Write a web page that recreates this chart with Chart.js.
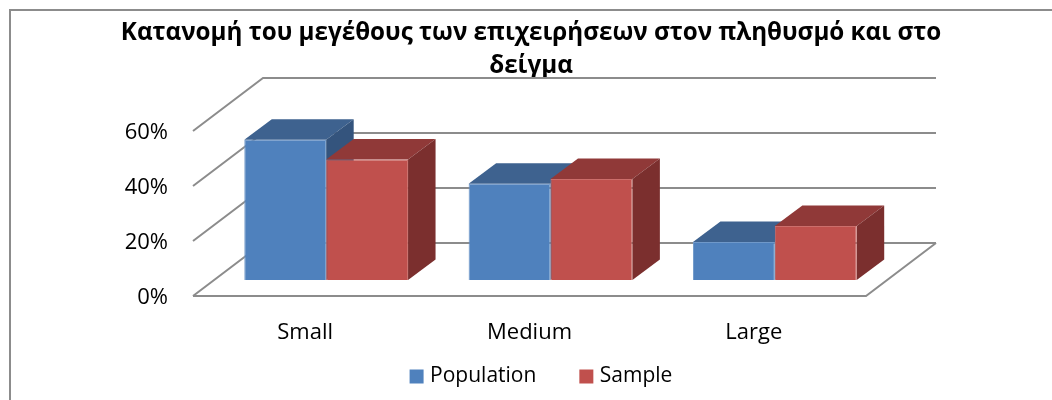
<!DOCTYPE html>
<html>
<head>
<meta charset="utf-8">
<style>
  html, body { margin: 0; padding: 0; background: #fff; }
  canvas { display: block; }
</style>
<script src="https://cdn.jsdelivr.net/npm/chart.js@4"></script>
</head>
<body>
<canvas id="chart" width="1052" height="400"></canvas>
<script>
const titleLines = ['Κατανομή του μεγέθους των επιχειρήσεων στον πληθυσμό και στο', 'δείγμα'];
const categories = ['Small', 'Medium', 'Large'];
const population = [51, 35, 13.8];
const sample = [43.8, 36.7, 19.6];
const tickValues = [0, 20, 40, 60];
const tickLabels = ['0%', '20%', '40%', '60%'];

const FONT = '"Open Sans", sans-serif';
const LINE = '#8c8c8c';
const LEGEND_GAP = 47;
// how far the walls and the bars sit behind the front edge of the floor
const WALL = { x: 70, y: -53 };
const PLANE = { x: 21, y: -16 };
const DEPTH = { x: 27.5, y: -20.5 };
const faces = [
    { top: '#3e628f', side: '#34547d' },
    { top: '#903938', side: '#7b2f2e' }
];

function line(ctx, pts) {
    ctx.beginPath();
    pts.forEach((p, i) => i ? ctx.lineTo(p[0], p[1]) : ctx.moveTo(p[0], p[1]));
    ctx.stroke();
}

function poly(ctx, pts, color) {
    ctx.fillStyle = color;
    ctx.beginPath();
    pts.forEach((p, i) => i ? ctx.lineTo(p[0], p[1]) : ctx.moveTo(p[0], p[1]));
    ctx.closePath();
    ctx.fill();
}

const box3d = {
    id: 'box3d',
    afterLayout(chart) {
        // the legend is centred a bit right of the title
        chart.legend.left += 12;
        chart.legend.right += 12;
        // labels.padding is also used vertically, take the extra back
        chart.legend.top -= LEGEND_GAP - 12;
    },
    beforeDatasetsDraw(chart) {
        const ctx = chart.ctx;
        const { left, right, bottom } = chart.chartArea;
        const yScale = chart.scales.y;

        ctx.save();
        ctx.strokeStyle = LINE;
        ctx.lineWidth = 2;
        // outer frame, only top and left in the original
        line(ctx, [[10, 400], [10, 10], [1052, 10]]);
        // walls
        tickValues.forEach(v => {
            const py = yScale.getPixelForValue(v);
            line(ctx, [[left, py], [left + WALL.x, py + WALL.y], [right + WALL.x, py + WALL.y]]);
        });
        // floor
        line(ctx, [[left, bottom], [right, bottom], [right + WALL.x, bottom + WALL.y]]);
        ctx.restore();

        // bars sit on the floor, not on its front edge
        ctx.save();
        ctx.translate(PLANE.x, PLANE.y);
        // tops and sides first, the library's bars then cover them from the front
        chart.data.datasets.forEach((ds, i) => {
            chart.getDatasetMeta(i).data.forEach(bar => {
                const { x, y, base, width } = bar.getProps(['x', 'y', 'base', 'width'], true);
                const l = x - width / 2, r = x + width / 2;
                poly(ctx, [[l, y], [l + DEPTH.x, y + DEPTH.y], [r + DEPTH.x, y + DEPTH.y], [r, y]], faces[i].top);
                poly(ctx, [[r, y], [r + DEPTH.x, y + DEPTH.y], [r + DEPTH.x, base + DEPTH.y], [r, base]], faces[i].side);
            });
        });
    },
    afterDatasetsDraw(chart) {
        chart.ctx.restore();
    }
};

new Chart(document.getElementById('chart'), {
    type: 'bar',
    data: {
        labels: categories,
        datasets: [
            { label: 'Population', data: population, backgroundColor: '#4f81bd', borderColor: '#6f98c9', borderWidth: 1, clip: false },
            { label: 'Sample', data: sample, backgroundColor: '#c0504d', borderColor: '#cc6e6b', borderWidth: 1, clip: false }
        ]
    },
    options: {
        responsive: false,
        animation: false,
        categoryPercentage: 0.73,
        barPercentage: 1,
        layout: { padding: { left: 10, bottom: 5 } },
        plugins: {
            tooltip: { enabled: false },
            title: {
                display: true,
                text: titleLines,
                color: '#000',
                font: { family: FONT, size: 24.2, weight: 'bold', lineHeight: 33 / 24.2 },
                padding: { top: 17, bottom: 48 }
            },
            legend: {
                position: 'bottom',
                maxHeight: 41,
                labels: {
                    color: '#000',
                    font: { family: FONT, size: 21 },
                    usePointStyle: true,
                    pointStyle: 'rect',
                    boxWidth: 6,
                    boxHeight: 14,
                    padding: LEGEND_GAP,
                    generateLabels(chart) {
                        return Chart.defaults.plugins.legend.labels.generateLabels(chart)
                            .map(item => ({ ...item, lineWidth: 0, strokeStyle: item.fillStyle }));
                    }
                }
            }
        },
        scales: {
            x: {
                grid: { display: false },
                border: { display: false },
                ticks: { color: '#000', font: { family: FONT, size: 22 }, padding: 16, maxRotation: 0 },
                afterFit(s) { s.height = 58; }
            },
            y: {
                min: 0,
                max: 60,
                grid: { display: false },
                border: { display: false },
                afterBuildTicks(s) { s.ticks = tickValues.map(v => ({ value: v })); },
                ticks: {
                    color: '#000',
                    font: { family: FONT, size: 22 },
                    padding: 17,
                    labelOffset: 2,
                    callback: v => tickLabels[tickValues.indexOf(v)]
                },
                afterFit(s) { s.width = 183; }
            },
            // empty axis, keeps room right of the floor for the back wall
            spacer: {
                position: 'right',
                grid: { display: false },
                border: { display: false },
                ticks: { display: false },
                afterFit(s) { s.width = 186; }
            }
        }
    },
    plugins: [box3d]
});
</script>
</body>
</html>
